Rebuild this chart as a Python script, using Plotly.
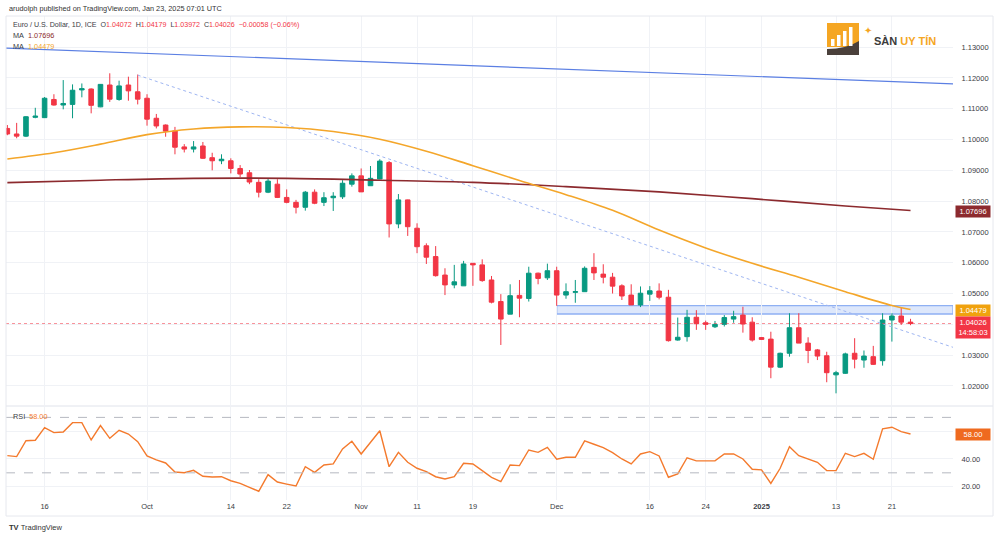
import plotly.graph_objects as go
import pandas as pd

# ---------------- data ----------------
dates = list(pd.bdate_range("2024-09-10", "2025-01-23").strftime("%Y-%m-%d"))  # 98 daily bars

open_ = [1.1036, 1.1018, 1.1011, 1.1072, 1.1071, 1.1130, 1.1112, 1.1114, 1.1161, 1.1164,
         1.1106, 1.1177, 1.1130, 1.1177, 1.1155, 1.1134, 1.1069, 1.1047, 1.1028, 1.0976,
         1.0969, 1.0979, 1.0941, 1.0931, 1.0931, 1.0906, 1.0892, 1.0861, 1.0829, 1.0855,
         1.0812, 1.0796, 1.0780, 1.0829, 1.0796, 1.0811, 1.0814, 1.0855, 1.0882, 1.0850,
         1.0872, 1.0925, 1.0726, 1.0804, 1.0712, 1.0655, 1.0620, 1.0560, 1.0528, 1.0525,
         1.0598, 1.0593, 1.0544, 1.0474, 1.0433, 1.0494, 1.0484, 1.0566, 1.0551, 1.0574,
         1.0495, 1.0504, 1.0506, 1.0585, 1.0563, 1.0553, 1.0525, 1.0495, 1.0463, 1.0498,
         1.0508, 1.0488, 1.0349, 1.0360, 1.0423, 1.0405, 1.0392, 1.0400, 1.0417, 1.0430,
         1.0407, 1.0357, 1.0352, 1.0261, 1.0306, 1.0389, 1.0339, 1.0317, 1.0298, 1.0236,
         1.0241, 1.0306, 1.0284, 1.0295, 1.0282, 1.0414, 1.0427, 1.04072]
high = [1.1047, 1.1054, 1.1076, 1.1103, 1.1138, 1.1147, 1.1193, 1.1179, 1.1182, 1.1166,
        1.1180, 1.1215, 1.1191, 1.1204, 1.1211, 1.1147, 1.1083, 1.1049, 1.1041, 1.0985,
        1.0995, 1.0992, 1.0957, 1.0952, 1.0939, 1.0917, 1.0901, 1.0871, 1.0872, 1.0871,
        1.0838, 1.0804, 1.0833, 1.0838, 1.0829, 1.0829, 1.0868, 1.0890, 1.0906, 1.0914,
        1.0936, 1.0930, 1.0823, 1.0805, 1.0728, 1.0663, 1.0654, 1.0582, 1.0593, 1.0606,
        1.0598, 1.0611, 1.0557, 1.0498, 1.0530, 1.0544, 1.0587, 1.0568, 1.0597, 1.0587,
        1.0533, 1.0544, 1.0588, 1.0631, 1.0595, 1.0567, 1.0530, 1.0530, 1.0523, 1.0524,
        1.0533, 1.0512, 1.0422, 1.0447, 1.0446, 1.0412, 1.0411, 1.0430, 1.0444, 1.0457,
        1.0423, 1.0359, 1.0376, 1.0308, 1.0436, 1.0436, 1.0358, 1.0320, 1.0311, 1.0249,
        1.0308, 1.0355, 1.0315, 1.0330, 1.0436, 1.0436, 1.0454, 1.04179]
low = [1.1014, 1.1004, 1.1008, 1.1069, 1.1070, 1.1110, 1.1098, 1.1069, 1.1137, 1.1085,
       1.1105, 1.1122, 1.1126, 1.1126, 1.1114, 1.1045, 1.1036, 1.1009, 1.0952, 1.0958,
       1.0958, 1.0937, 1.0900, 1.0920, 1.0890, 1.0878, 1.0855, 1.0812, 1.0826, 1.0810,
       1.0793, 1.0760, 1.0769, 1.0790, 1.0784, 1.0768, 1.0807, 1.0847, 1.0830, 1.0850,
       1.0871, 1.0682, 1.0712, 1.0687, 1.0631, 1.0596, 1.0555, 1.0495, 1.0517, 1.0525,
       1.0525, 1.0538, 1.0468, 1.0333, 1.0433, 1.0423, 1.0474, 1.0530, 1.0544, 1.0460,
       1.0483, 1.0470, 1.0506, 1.0544, 1.0533, 1.0500, 1.0479, 1.0463, 1.0456, 1.0476,
       1.0481, 1.0344, 1.0347, 1.0344, 1.0382, 1.0382, 1.0388, 1.0393, 1.0405, 1.0373,
       1.0344, 1.0349, 1.0225, 1.0258, 1.0295, 1.0339, 1.0274, 1.0284, 1.0212, 1.0176,
       1.0239, 1.0257, 1.0259, 1.0268, 1.0266, 1.0344, 1.0398, 1.03972]
close = [1.1018, 1.1011, 1.1074, 1.1076, 1.1134, 1.1112, 1.1117, 1.1160, 1.1165, 1.1111,
         1.1179, 1.1131, 1.1174, 1.1158, 1.1131, 1.1066, 1.1044, 1.1027, 1.0975, 1.0969,
         1.0976, 1.0939, 1.0931, 1.0936, 1.0906, 1.0888, 1.0862, 1.0829, 1.0865, 1.0812,
         1.0796, 1.0780, 1.0829, 1.0793, 1.0811, 1.0816, 1.0858, 1.0882, 1.0830, 1.0874,
         1.0930, 1.0726, 1.0804, 1.0717, 1.0652, 1.0618, 1.0558, 1.0528, 1.0538, 1.0596,
         1.0593, 1.0542, 1.0472, 1.0417, 1.0493, 1.0485, 1.0566, 1.0549, 1.0574, 1.0495,
         1.0506, 1.0506, 1.0582, 1.0567, 1.0553, 1.0524, 1.0492, 1.0463, 1.0501, 1.0509,
         1.0488, 1.0347, 1.0358, 1.0423, 1.0402, 1.0400, 1.0400, 1.0422, 1.0425, 1.0401,
         1.0349, 1.0351, 1.0261, 1.0306, 1.0389, 1.0339, 1.0315, 1.0297, 1.0243, 1.0243,
         1.0304, 1.0287, 1.0297, 1.0270, 1.0414, 1.0427, 1.0407, 1.04026]

rsi = [42.4, 41.7, 53.2, 53.5, 62.6, 59.0, 59.5, 66.2, 66.2, 53.7,
       64.1, 54.9, 60.7, 58.0, 52.5, 42.2, 39.3, 37.1, 30.6, 30.1,
       31.8, 27.5, 27.0, 27.2, 24.3, 22.4, 19.5, 16.7, 28.7, 23.4,
       21.9, 20.5, 34.4, 30.4, 35.7, 36.4, 47.2, 52.8, 43.6, 52.0,
       60.4, 34.4, 44.8, 37.6, 33.3, 30.9, 27.2, 25.6, 27.2, 36.9,
       36.4, 31.6, 26.8, 23.6, 35.7, 35.2, 46.5, 44.8, 48.4, 39.8,
       41.2, 41.2, 53.0, 50.6, 48.2, 44.6, 40.0, 36.4, 43.6, 45.3,
       42.2, 26.8, 29.2, 40.9, 38.6, 38.6, 38.6, 43.6, 43.6, 40.0,
       32.6, 32.1, 22.4, 33.3, 48.9, 42.4, 39.8, 37.6, 31.6, 31.6,
       44.1, 41.7, 44.1, 39.8, 61.7, 62.9, 59.7, 58.0]

ma_fast_dates = ["2024-09-10", "2024-09-17", "2024-09-24", "2024-10-01", "2024-10-08", "2024-10-15",
                 "2024-10-22", "2024-10-29", "2024-11-05", "2024-11-12", "2024-11-19", "2024-11-26",
                 "2024-12-03", "2024-12-10", "2024-12-17", "2024-12-24", "2024-12-31", "2025-01-07",
                 "2025-01-14", "2025-01-21", "2025-01-23"]
ma_fast = [1.0937, 1.0957, 1.0985, 1.1016, 1.1034, 1.1041, 1.1039, 1.1026, 1.1001, 1.0962,
           1.0915, 1.0867, 1.0821, 1.0770, 1.0706, 1.0648, 1.0598, 1.0553, 1.0506, 1.0461, 1.04479]

ma_slow_dates = ["2024-09-10", "2024-09-24", "2024-10-08", "2024-10-22", "2024-11-05", "2024-11-19",
                 "2024-12-03", "2024-12-17", "2024-12-31", "2025-01-14", "2025-01-23"]
ma_slow = [1.0860, 1.0868, 1.0874, 1.0874, 1.0868, 1.0861, 1.0847, 1.0830, 1.0808, 1.0784, 1.07696]

# drawn objects
top_line_dates = ["2024-09-09", "2025-01-30"]
top_line_prices = [1.1298, 1.1180]
trend_dates = ["2024-09-30", "2025-01-30"]
trend_prices = [1.1209, 1.0321]
zone_start = "2024-12-02"
zone_low, zone_high = 1.04336, 1.04605
last_price = 1.04026

x_start, x_end = "2024-09-09 20:30", "2025-01-29 13:30"

tick_dates = ["2024-09-16", "2024-10-01", "2024-10-14", "2024-10-22", "2024-11-01", "2024-11-11",
              "2024-11-19", "2024-12-02", "2024-12-16", "2024-12-24", "2025-01-01", "2025-01-13",
              "2025-01-21"]
tick_text = ["16", "Oct", "14", "22", "Nov", "11", "19", "Dec", "16", "24", "<b>2025</b>", "13", "21"]

price_ticks = [1.02, 1.03, 1.04, 1.05, 1.06, 1.07, 1.08, 1.09, 1.10, 1.11, 1.12, 1.13]
price_tick_text = ["1.02000", "1.03000", "", "1.05000", "1.06000", "1.07000", "1.08000",
                   "1.09000", "1.10000", "1.11000", "1.12000", "1.13000"]
rsi_ticks = [20, 40, 60]
rsi_tick_text = ["20.00", "40.00", ""]

# ---------------- styling ----------------
GREEN, RED = "#089981", "#f23645"
ORANGE, DARKRED = "#f4a62a", "#8c2a2e"
RSI_C = "#f47a2d"
GRID = "#f0f2f6"
FONT = "Liberation Sans"
TXT = "#3a3d45"

PL, PR, PT, PB = 6, 953, 16, 500


def px(x):
    return (x - PL) / (PR - PL)


def py(y):
    return (PB - y) / (PB - PT)


fig = go.Figure()

fig.add_trace(go.Candlestick(
    x=dates, open=open_, high=high, low=low, close=close,
    increasing=dict(line=dict(color=GREEN, width=1), fillcolor=GREEN),
    decreasing=dict(line=dict(color=RED, width=1), fillcolor=RED),
    whiskerwidth=0, showlegend=False, hoverinfo="skip", xaxis="x", yaxis="y"))

fig.add_trace(go.Scatter(x=top_line_dates, y=top_line_prices, mode="lines",
                         line=dict(color="#5b7fe3", width=1.2), showlegend=False, hoverinfo="skip"))
fig.add_trace(go.Scatter(x=trend_dates, y=trend_prices, mode="lines",
                         line=dict(color="#9fb6f2", width=1, dash="dot"), showlegend=False, hoverinfo="skip"))
fig.add_trace(go.Scatter(x=ma_slow_dates, y=ma_slow, mode="lines", line_shape="spline",
                         line=dict(color=DARKRED, width=1.6), showlegend=False, hoverinfo="skip"))
fig.add_trace(go.Scatter(x=ma_fast_dates, y=ma_fast, mode="lines", line_shape="spline",
                         line=dict(color=ORANGE, width=1.6), showlegend=False, hoverinfo="skip"))

fig.add_trace(go.Scatter(x=dates, y=rsi, mode="lines", line=dict(color=RSI_C, width=1.4),
                         showlegend=False, hoverinfo="skip", xaxis="x2", yaxis="y2"))

shapes = []
# support zone
shapes.append(dict(type="rect", xref="x", yref="y", x0=zone_start, x1=x_end, y0=zone_low, y1=zone_high,
                   fillcolor="rgba(120,160,240,0.25)", line=dict(color="#8fb0f3", width=1.3), layer="below"))
# last price line
shapes.append(dict(type="line", xref="paper", yref="y", x0=0, x1=1, y0=last_price, y1=last_price,
                   line=dict(color="rgba(242,54,69,0.55)", width=1, dash="dot")))
# RSI bands
for lvl in (70, 30):
    shapes.append(dict(type="line", xref="paper", yref="y2", x0=0, x1=1, y0=lvl, y1=lvl,
                       line=dict(color="#b5b8c0", width=1, dash="dash")))
# pane separator and frame
shapes.append(dict(type="line", xref="paper", yref="paper", x0=px(6), x1=px(993), y0=py(406), y1=py(406),
                   line=dict(color="#e0e3eb", width=1)))
shapes.append(dict(type="rect", xref="paper", yref="paper", x0=px(6), x1=px(993), y0=py(16), y1=py(516),
                   line=dict(color="#e6e8ee", width=1), fillcolor="rgba(0,0,0,0)"))
# logo icon
shapes.append(dict(type="rect", xref="paper", yref="paper", x0=px(827), x1=px(859), y0=py(47), y1=py(23),
                   fillcolor="#f5a623", line=dict(width=0)))
shapes.append(dict(type="path", xref="paper", yref="paper",
                   path=f"M {px(827)},{py(55)} L {px(859)},{py(55)} L {px(859)},{py(41)} "
                        f"Q {px(846)},{py(49)} {px(827)},{py(49)} Z",
                   fillcolor="#4a403b", line=dict(width=0)))
for bx0, btop in ((831, 39), (837, 35), (843, 31), (849, 27)):
    shapes.append(dict(type="rect", xref="paper", yref="paper", x0=px(bx0), x1=px(bx0 + 3.5),
                       y0=py(46), y1=py(btop), fillcolor="white", line=dict(width=0)))

annotations = []


def note(x, y, text, size=7.5, color=TXT, xanchor="left", **kw):
    annotations.append(dict(xref="paper", yref="paper", x=px(x), y=py(y), text=text, showarrow=False,
                            xanchor=xanchor, yanchor="middle", font=dict(family=FONT, size=size, color=color), **kw))


note(7, 8, "arudolph published on TradingView.com, Jan 23, 2025 07:01 UTC", size=7.3, color="#333")
r = lambda t: f"<span style='color:{RED}'>{t}</span>"
note(11, 25, "Euro / U.S. Dollar, 1D, ICE&nbsp;&nbsp;O" + r("1.04072") + "&nbsp;&nbsp;H" + r("1.04179")
     + "&nbsp;&nbsp;L" + r("1.03972") + "&nbsp;&nbsp;C" + r("1.04026") + "&nbsp;&nbsp;" + r("−0.00058 (−0.06%)"),
     size=7.1)
note(11, 36, f"MA&nbsp;&nbsp;<span style='color:{DARKRED}'>1.07696</span>", size=7.3)
note(11, 46, f"MA&nbsp;&nbsp;<span style='color:{ORANGE}'>1.04479</span>", size=7.3)
note(11, 416, f"RSI&nbsp;&nbsp;<span style='color:{RSI_C}'>58.00</span>", size=7.3)

# price scale labels
note(955, 211, "1.07696", size=7.5, color="white", bgcolor=DARKRED, width=32, align="center", borderpad=1)
note(955, 310, "1.04479", size=7.5, color="white", bgcolor="#f0a20e", width=32, align="center", borderpad=1)
note(955, 327.5, "1.04026<br>14:58:03", size=7.5, color="white", bgcolor=RED, width=32, align="center", borderpad=1)
note(955, 434, "58.00", size=7.5, color="white", bgcolor="#ef6a1f", width=32, align="center", borderpad=1)

# logo text
note(868, 30, "✦", size=10, color="#f5a623", xanchor="center")
note(872, 41, "<b>SÀN</b> <b><span style='color:#f5a623'>UY TÍN</span></b>", size=11, color="#3b3b3b")
# TradingView footer
note(7, 527, "<b>TV</b>&nbsp;TradingView", size=7.5, color="#333")

axis_common = dict(type="date", range=[x_start, x_end], rangebreaks=[dict(bounds=["sat", "mon"])],
                   showgrid=True, gridcolor=GRID, gridwidth=1, zeroline=False, showline=False,
                   tickvals=tick_dates, ticktext=tick_text, ticks="",
                   tickfont=dict(family=FONT, size=7.5, color=TXT))

fig.update_layout(
    width=1000, height=538,
    margin=dict(l=PL, r=1000 - PR, t=PT, b=538 - PB),
    paper_bgcolor="white", plot_bgcolor="white",
    showlegend=False,
    xaxis=dict(**axis_common, anchor="y", domain=[0, 1], showticklabels=False,
               rangeslider=dict(visible=False)),
    xaxis2=dict(**axis_common, anchor="y2", domain=[0, 1], matches="x", showticklabels=True),
    yaxis=dict(domain=[py(406) + 0.002, 1], range=[1.0138, 1.1401], side="right",
               tickvals=price_ticks, ticktext=price_tick_text, showgrid=True, gridcolor=GRID,
               zeroline=False, showline=False, ticks="outside", ticklen=6, tickcolor="rgba(0,0,0,0)",
               tickfont=dict(family=FONT, size=7.5, color=TXT), anchor="x"),
    yaxis2=dict(domain=[0, py(407)], range=[10.4, 77.5], side="right",
                tickvals=rsi_ticks, ticktext=rsi_tick_text, showgrid=True, gridcolor=GRID,
                zeroline=False, showline=False, ticks="outside", ticklen=6, tickcolor="rgba(0,0,0,0)",
                tickfont=dict(family=FONT, size=7.5, color=TXT), anchor="x2"),
    shapes=shapes, annotations=annotations,
)

fig.write_html("out.html", config={"displayModeBar": False, "staticPlot": True},
               post_script="document.body.style.margin='0';document.body.style.overflow='hidden';")
